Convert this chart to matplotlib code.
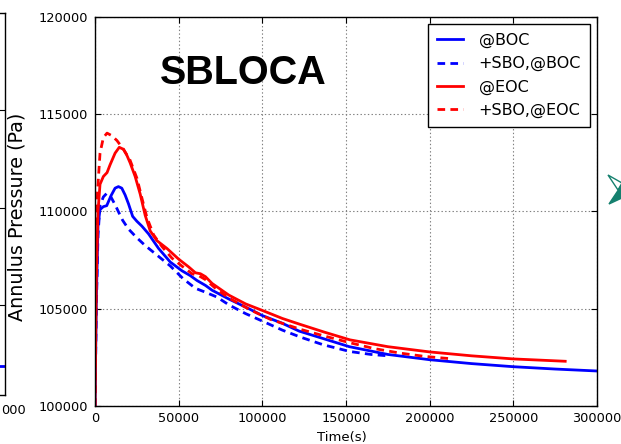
import matplotlib
matplotlib.use("Agg")
import matplotlib.pyplot as plt
from matplotlib.patches import Polygon
from matplotlib.transforms import IdentityTransform

plt.rcParams['font.family'] = ['DejaVu Sans']
plt.rcParams['lines.scale_dashes'] = False

# time (s) and annulus pressure (Pa)
t_boc = [0, 800, 1800, 3000, 5000, 7000, 9500, 12000, 14000, 16000, 18000, 20000,
         22500, 25000, 28000, 32000, 38000, 45000, 52000, 57000, 61000, 64000,
         66000, 70000, 80000, 92000, 100000, 112000, 122000, 137000, 152000,
         175000, 200000, 225000, 250000, 275000, 300000]
p_boc = [100000, 105500, 109300, 110100, 110250, 110300, 110800, 111200, 111280,
         111200, 110850, 110400, 109750, 109500, 109250, 108850, 108100, 107400,
         106950, 106700, 106450, 106300, 106200, 105950, 105500, 105000, 104650,
         104250, 103850, 103450, 103050, 102650, 102380, 102180, 102020, 101900,
         101800]

t_sbo_boc = [0, 800, 1800, 3000, 5000, 7200, 9500, 12000, 14500, 16500, 20000,
             25000, 30000, 35000, 40000, 45000, 52600, 60000, 66000, 72900, 80000,
             90000, 100400, 112000, 122500, 136300, 152400, 165000, 175000]
p_sbo_boc = [100000, 105000, 108800, 110300, 110750, 110950, 110750, 110350,
             109900, 109550, 109100, 108650, 108250, 107900, 107550, 107200,
             106550, 106050, 105850, 105600, 105200, 104750, 104350, 103900,
             103550, 103150, 102800, 102650, 102580]

t_eoc = [0, 800, 1800, 3000, 5000, 7200, 9000, 12000, 14500, 17000, 19000, 21000,
         24000, 27000, 30000, 33000, 37000, 43000, 50000, 56000, 60000, 63000,
         66000, 70000, 80000, 90000, 100400, 112000, 122500, 137000, 152400,
         175000, 200000, 225000, 250000, 281000]
p_eoc = [100000, 106500, 110000, 111400, 111800, 112000, 112400, 113000, 113300,
         113200, 112900, 112500, 111800, 110900, 109800, 109000, 108500, 108100,
         107550, 107150, 106850, 106800, 106650, 106300, 105700, 105250, 104900,
         104500, 104200, 103800, 103400, 103050, 102780, 102580, 102420, 102300]

t_sbo_eoc = [0, 700, 1500, 3000, 5000, 7200, 10000, 13100, 17000, 20900, 25100,
             28000, 31000, 35000, 40000, 46000, 52600, 58000, 62000, 66000, 72000,
             80000, 92600, 105000, 122500, 137000, 152400, 167000, 182300, 197000,
             214000]
p_sbo_eoc = [100000, 107500, 111000, 113000, 113800, 114030, 113900, 113650,
             113200, 112650, 111700, 110700, 109700, 108800, 108200, 107600,
             107150, 106800, 106700, 106500, 106050, 105550, 104950, 104450,
             103950, 103600, 103250, 102950, 102720, 102550, 102420]

labels = ['@BOC', '+SBO,@BOC', '@EOC', '+SBO,@EOC']

W, H = 621, 444
fig = plt.figure(figsize=(W / 100, H / 100), dpi=100)

# part of the neighbouring panel cut off at the left edge
axl = fig.add_axes([5 / W - 0.5, 1 - 395 / H, 0.5, (395 - 13) / H])
axl.set_xlim(0, 300000)
axl.set_ylim(100400, 120000)
axl.plot([0, 300000], [101870, 101870], color='#0000ff', lw=2)
axl.set_yticks([105000, 110000, 115000])
axl.set_xticks([])
axl.tick_params(axis='y', direction='in', right=True, left=False,
                labelleft=False, length=4)
for s in axl.spines.values():
    s.set_linewidth(1.0)
fig.text(1 / W, 1 - 410 / H, '000', ha='left', va='center', fontsize=9.3)

ax = fig.add_axes([95 / W, 1 - 406 / H, 502 / W, 389 / H])
ax.plot(t_boc, p_boc, color='#0000ff', lw=2, label=labels[0])
ax.plot(t_sbo_boc, p_sbo_boc, color='#0000ff', lw=2, ls='--', dashes=(5.5, 3.8),
        label=labels[1])
ax.plot(t_eoc, p_eoc, color='#ff0000', lw=2, label=labels[2])
ax.plot(t_sbo_eoc, p_sbo_eoc, color='#ff0000', lw=2, ls='--', dashes=(5.5, 3.8),
        label=labels[3])

ax.set_xlim(0, 300000)
ax.set_ylim(100000, 120000)
ax.set_xticks(range(0, 300001, 50000))
ax.set_yticks(range(100000, 120001, 5000))
ax.tick_params(direction='in', top=True, right=True, length=4, labelsize=9.3)
ax.tick_params(axis='y', pad=5)
ax.tick_params(axis='x', pad=4)
ax.grid(True, color='0.5', ls=':', lw=0.8)
for s in ax.spines.values():
    s.set_linewidth(1.0)

ax.text(0.295, 0.856, 'SBLOCA', transform=ax.transAxes, ha='center', va='center',
        fontsize=28.5, fontweight='bold', family='Liberation Sans')

leg = ax.legend(loc='upper right', fontsize=11.5, fancybox=False, framealpha=1,
                edgecolor='black', handlelength=1.6, handletextpad=1.0,
                labelspacing=0.5, borderpad=0.55, borderaxespad=0.45)
leg.get_frame().set_linewidth(1.0)

fig.text(17 / W, 1 - 217 / H, 'Annulus Pressure (Pa)', rotation=90,
         ha='center', va='center', fontsize=13.8)
fig.text(342 / W, 1 - 437 / H, 'Time(s)', ha='center', va='center', fontsize=9.5)

# bit of a green star marker peeking in at the right edge
teal = '#14806e'
fig.patches.append(Polygon([(608, H - 175), (622, H - 183), (618, H - 190)],
                           closed=True, facecolor='white', edgecolor=teal, lw=1,
                           transform=IdentityTransform(), figure=fig))
fig.patches.append(Polygon([(609, H - 204), (621, H - 186), (624, H - 197)],
                           closed=True, facecolor=teal, edgecolor=teal, lw=1,
                           transform=IdentityTransform(), figure=fig))

fig.savefig('out.png', dpi=100)
